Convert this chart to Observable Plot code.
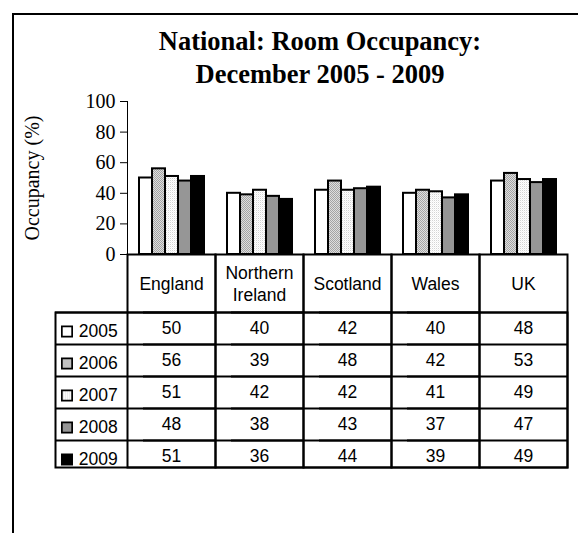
<!DOCTYPE html>
<html>
<head>
<meta charset="utf-8">
<script src="https://cdn.jsdelivr.net/npm/d3@7"></script>
<script src="https://cdn.jsdelivr.net/npm/@observablehq/plot@0.6"></script>
<style>
  html, body { margin: 0; padding: 0; background: #fff; overflow: hidden; }
  #page { position: relative; width: 578px; height: 533px; overflow: hidden; }
  #border { position: absolute; left: 12px; top: 13px; width: 700px; height: 700px;
            border: 2px solid #000; box-sizing: border-box; }
  #title { position: absolute; left: 12px; width: 616px; top: 25px; margin: 0;
           text-align: center; font-family: "Liberation Serif", "Times New Roman", serif;
           font-weight: bold; font-size: 26.5px; line-height: 33px; color: #000; }
  #chart { position: absolute; left: 0; top: 90px; }
  #chart svg { overflow: visible; }
</style>
</head>
<body>
<!-- hatched fills shared by the bars and the table swatches -->
<svg width="0" height="0" style="position:absolute">
  <defs>
    <pattern id="fill2006" width="2" height="2" patternUnits="userSpaceOnUse">
      <rect width="2" height="2" fill="#dedede"/>
      <rect width="1" height="1" fill="#a4a4a4"/>
      <rect x="1" y="1" width="1" height="1" fill="#a4a4a4"/>
    </pattern>
    <pattern id="fill2007" width="2" height="2" patternUnits="userSpaceOnUse">
      <rect width="2" height="2" fill="#ffffff"/>
      <rect width="1" height="1" fill="#d4d4d4"/>
      <rect x="1" y="1" width="1" height="1" fill="#f2f2f2"/>
    </pattern>
  </defs>
</svg>
<div id="page">
  <div id="border"></div>
  <h2 id="title">National: Room Occupancy:<br>December 2005 - 2009</h2>
  <div id="chart"></div>
</div>
<script>
// Room occupancy (%) in December, by nation and year
const countries = ["England", "Northern Ireland", "Scotland", "Wales", "UK"];
const years = ["2005", "2006", "2007", "2008", "2009"];
const occ2005 = [50, 40, 42, 40, 48];
const occ2006 = [56, 39, 48, 42, 53];
const occ2007 = [51, 42, 42, 41, 49];
const occ2008 = [48, 38, 43, 37, 47];
const occ2009 = [51, 36, 44, 39, 49];
const yTicks = [0, 20, 40, 60, 80, 100];
const yLabel = "Occupancy (%)";

const series = [occ2005, occ2006, occ2007, occ2008, occ2009];
const rows = years.flatMap((year, i) =>
  countries.map((country, j) => ({year, country, value: series[i][j]}))
);

const fills = {
  "2005": "#ffffff",
  "2006": "url(#fill2006)",
  "2007": "url(#fill2007)",
  "2008": "#969696",
  "2009": "#000000"
};

// layout of the plot and the data table hung beneath it
const W = 578, H = 443;
const mTop = 11, mBottom = 279, mLeft = 127, mRight = 11;
const plotH = H - mTop - mBottom;     // bar area height
const headerH = 58, rowH = 32, tableH = 213;
const legendW = 72;
const sans = "'Liberation Sans', Arial, sans-serif";
const serif = "'Liberation Serif', 'Times New Roman', serif";
const tableFont = 17.5;

const rowCenter = i => headerH + rowH / 2 + rowH * i;
const rowLines = years.map((_, i) => headerH + rowH * i);

const marks = [
  // bars
  Plot.barY(rows, {
    fx: "country", x: "year", y: "value",
    fill: d => fills[d.year], stroke: "#000", strokeWidth: 2
  }),
  // y-axis title
  Plot.text([yLabel], {
    fx: () => countries[0], text: d => d, frameAnchor: "left", dx: -95,
    rotate: -90, textAnchor: "middle", lineAnchor: "middle",
    fontFamily: serif, fontSize: 20
  }),
  // table: column cells
  Plot.frame({insetTop: plotH, insetBottom: -tableH, stroke: "#000", strokeWidth: 2}),
  // table: legend column outline
  Plot.frame({facet: "super", insetLeft: -legendW, insetTop: plotH + headerH,
              insetBottom: -tableH, stroke: "#000", strokeWidth: 2}),
  // table: row separators
  ...rowLines.map(off => Plot.ruleY([0], {dy: off, insetLeft: -legendW, stroke: "#000", strokeWidth: 2})),
  // table: header
  Plot.text(countries, {
    fx: d => d, text: d => d, frameAnchor: "bottom", dy: 28.5,
    lineAnchor: "middle", lineWidth: 5, lineHeight: 1.23,
    fontFamily: sans, fontSize: tableFont
  }),
  // table: values and legend
  ...years.flatMap((year, i) => [
    Plot.text(countries, {
      fx: d => d, text: (d, j) => String(series[i][j]), frameAnchor: "bottom",
      dy: rowCenter(i), lineAnchor: "middle", fontFamily: sans, fontSize: tableFont
    }),
    Plot.dot([year], {
      fx: () => countries[0], frameAnchor: "bottom-left", dx: -60.5, dy: rowCenter(i) + 3,
      symbol: "square", r: 5.8, fill: d => fills[d], stroke: "#000", strokeWidth: 1.7
    }),
    Plot.text([year], {
      fx: () => countries[0], text: d => d, frameAnchor: "bottom-left",
      dx: -48.7, dy: rowCenter(i) + 3, textAnchor: "start", lineAnchor: "middle",
      fontFamily: sans, fontSize: tableFont
    })
  ])
];

const chart = Plot.plot({
  width: W, height: H,
  marginTop: mTop, marginBottom: mBottom, marginLeft: mLeft, marginRight: mRight,
  style: {fontFamily: serif, fontSize: "20px", color: "#000", background: "transparent", overflow: "visible"},
  fx: {domain: countries, padding: 0, axis: null, label: null},
  x: {domain: years, paddingInner: 0, paddingOuter: 0.85, axis: null},
  y: {domain: [0, 100], ticks: yTicks, tickSize: 7, tickPadding: 5, line: true, label: null},
  color: {type: "identity"},
  marks
});

document.getElementById("chart").appendChild(chart);
</script>
</body>
</html>
